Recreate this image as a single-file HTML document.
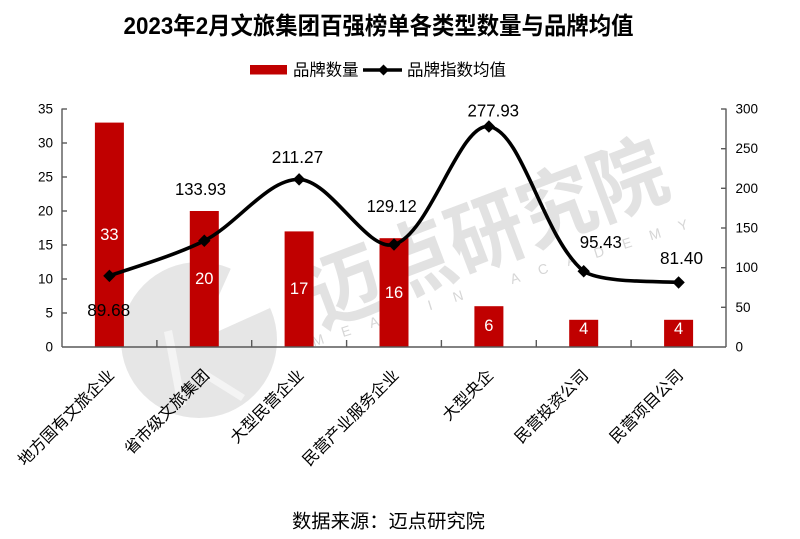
<!DOCTYPE html>
<html>
<head>
<meta charset="utf-8">
<style>
  html,body{margin:0;padding:0;background:#fff;}
  svg{display:block;}
  .cjk{font-family:"Liberation Sans","Noto Sans CJK SC","WenQuanYi Zen Hei",sans-serif;}
  .num{font-family:"Liberation Sans","Noto Sans CJK SC",sans-serif;}
</style>
</head>
<body>
<svg width="800" height="539" viewBox="0 0 800 539" xmlns="http://www.w3.org/2000/svg">
  <rect x="0" y="0" width="800" height="539" fill="#ffffff"/>

  <!-- watermark -->
  <g>
    <circle cx="199" cy="340" r="78" fill="#e6e6e6"/>
    <path d="M199,340 L232,266 A78,78 0 0 1 270,308 Z" fill="#ffffff"/>
    <path d="M172,330 L186,405 L178,407 L164,332 Z" fill="#f4f4f4"/>
    <path d="M205,370 L245,395 L241,401 L201,376 Z" fill="#f4f4f4"/>
    <text class="cjk" x="487" y="235" font-size="82" font-weight="bold" fill="#e2e2e2" text-anchor="middle" dominant-baseline="central" textLength="378" lengthAdjust="spacingAndGlyphs" transform="rotate(-20.8 487 235)">迈点研究院</text>
    <g class="num" font-size="14" fill="#d6d6d6" text-anchor="middle" dominant-baseline="central">
      <text x="318" y="340" transform="rotate(-17.5 318 340)">M</text>
      <text x="346" y="331" transform="rotate(-17.5 346 331)">E</text>
      <text x="374" y="322" transform="rotate(-17.5 374 322)">A</text>
      <text x="402" y="313" transform="rotate(-17.5 402 313)">D</text>
      <text x="430" y="305" transform="rotate(-17.5 430 305)">I</text>
      <text x="458" y="296" transform="rotate(-17.5 458 296)">N</text>
      <text x="515" y="278" transform="rotate(-17.5 515 278)">A</text>
      <text x="543" y="269" transform="rotate(-17.5 543 269)">C</text>
      <text x="571" y="260" transform="rotate(-17.5 571 260)">A</text>
      <text x="599" y="252" transform="rotate(-17.5 599 252)">D</text>
      <text x="627" y="243" transform="rotate(-17.5 627 243)">E</text>
      <text x="655" y="234" transform="rotate(-17.5 655 234)">M</text>
      <text x="683" y="225" transform="rotate(-17.5 683 225)">Y</text>
    </g>
  </g>

  <!-- title -->
  <text class="cjk" x="123.5" y="26.5" font-size="24" font-weight="bold" fill="#000" dominant-baseline="central" textLength="510" lengthAdjust="spacingAndGlyphs">2023年2月文旅集团百强榜单各类型数量与品牌均值</text>

  <!-- legend -->
  <rect x="250" y="65" width="37" height="9.5" fill="#c00000"/>
  <text class="cjk" x="293" y="70.5" font-size="16.5" fill="#000" dominant-baseline="central" textLength="65.5" lengthAdjust="spacingAndGlyphs">品牌数量</text>
  <line x1="363" y1="70" x2="402" y2="70" stroke="#000" stroke-width="3.5"/>
  <path d="M383.5,64.5 L389,70 L383.5,75.5 L378,70 Z" fill="#000"/>
  <text class="cjk" x="407" y="70.5" font-size="16.5" fill="#000" dominant-baseline="central" textLength="99" lengthAdjust="spacingAndGlyphs">品牌指数均值</text>

  <!-- bars -->
  <g fill="#c00000">
    <rect x="94.9" y="122.6" width="29" height="224.4"/>
    <rect x="189.8" y="211" width="29" height="136"/>
    <rect x="284.6" y="231.4" width="29" height="115.6"/>
    <rect x="379.5" y="238.2" width="29" height="108.8"/>
    <rect x="474.4" y="306.2" width="29" height="40.8"/>
    <rect x="569.2" y="319.8" width="29" height="27.2"/>
    <rect x="664.1" y="319.8" width="29" height="27.2"/>
  </g>

  <!-- bar value labels -->
  <g class="num" font-size="16.5" fill="#ffffff" text-anchor="middle" dominant-baseline="central">
    <text x="109.4" y="235">33</text>
    <text x="204.3" y="279">20</text>
    <text x="299.1" y="289">17</text>
    <text x="394" y="293">16</text>
    <text x="488.9" y="326">6</text>
    <text x="583.7" y="329">4</text>
    <text x="678.6" y="329">4</text>
  </g>

  <!-- axes -->
  <g stroke="#595959" stroke-width="1.4" fill="none">
    <line x1="62" y1="108.5" x2="62" y2="347"/>
    <line x1="726" y1="108.5" x2="726" y2="347"/>
    <line x1="62" y1="347" x2="726" y2="347"/>
    <line x1="62" y1="109" x2="67" y2="109"/>
    <line x1="62" y1="143" x2="67" y2="143"/>
    <line x1="62" y1="177" x2="67" y2="177"/>
    <line x1="62" y1="211" x2="67" y2="211"/>
    <line x1="62" y1="245" x2="67" y2="245"/>
    <line x1="62" y1="279" x2="67" y2="279"/>
    <line x1="62" y1="313" x2="67" y2="313"/>
    <line x1="721" y1="109" x2="726" y2="109"/>
    <line x1="721" y1="148.7" x2="726" y2="148.7"/>
    <line x1="721" y1="188.3" x2="726" y2="188.3"/>
    <line x1="721" y1="228" x2="726" y2="228"/>
    <line x1="721" y1="267.7" x2="726" y2="267.7"/>
    <line x1="721" y1="307.3" x2="726" y2="307.3"/>
    <line x1="156.9" y1="340" x2="156.9" y2="347"/>
    <line x1="251.7" y1="340" x2="251.7" y2="347"/>
    <line x1="346.6" y1="340" x2="346.6" y2="347"/>
    <line x1="441.4" y1="340" x2="441.4" y2="347"/>
    <line x1="536.3" y1="340" x2="536.3" y2="347"/>
    <line x1="631.1" y1="340" x2="631.1" y2="347"/>
  </g>

  <!-- left axis labels -->
  <g class="num" font-size="13.5" fill="#000" text-anchor="end" dominant-baseline="central">
    <text x="53" y="109">35</text>
    <text x="53" y="143">30</text>
    <text x="53" y="177">25</text>
    <text x="53" y="211">20</text>
    <text x="53" y="245">15</text>
    <text x="53" y="279">10</text>
    <text x="53" y="313">5</text>
    <text x="53" y="347">0</text>
  </g>
  <!-- right axis labels -->
  <g class="num" font-size="13.5" fill="#000" text-anchor="start" dominant-baseline="central">
    <text x="735.5" y="109">300</text>
    <text x="735.5" y="148.7">250</text>
    <text x="735.5" y="188.3">200</text>
    <text x="735.5" y="228">150</text>
    <text x="735.5" y="267.7">100</text>
    <text x="735.5" y="307.3">50</text>
    <text x="735.5" y="347">0</text>
  </g>

  <!-- line series -->
  <path d="M109.4,275.85 C125.2,270.0 174.4,255.95 204.3,240.75 C237.65,223.79 267.8,178.76 299.1,179.39 C331.0,180.03 366.7,252.17 394,244.56 C429.95,234.54 459.4,122.35 488.9,126.51 C522.6,131.26 542.95,237.8 583.7,271.29 C602,283 655,281 678.6,282.42" fill="none" stroke="#000" stroke-width="3.6" stroke-linejoin="round" stroke-linecap="round"/>
  <g fill="#000">
    <path d="M109.4,269.6 L115.6,275.85 L109.4,282.1 L103.2,275.85 Z"/>
    <path d="M204.3,234.5 L210.5,240.75 L204.3,247 L198.1,240.75 Z"/>
    <path d="M299.1,173.1 L305.3,179.4 L299.1,185.6 L292.9,179.4 Z"/>
    <path d="M394,238.3 L400.2,244.56 L394,250.8 L387.8,244.56 Z"/>
    <path d="M488.9,120.3 L495.1,126.5 L488.9,132.8 L482.7,126.5 Z"/>
    <path d="M583.7,265 L589.9,271.3 L583.7,277.5 L577.5,271.3 Z"/>
    <path d="M678.6,276.2 L684.8,282.4 L678.6,288.7 L672.4,282.4 Z"/>
  </g>

  <!-- line data labels -->
  <g class="num" font-size="17.5" fill="#000" text-anchor="middle" dominant-baseline="central">
    <text x="108.7" y="310" textLength="43" lengthAdjust="spacingAndGlyphs">89.68</text>
    <text x="200.5" y="189" textLength="51" lengthAdjust="spacingAndGlyphs">133.93</text>
    <text x="297.5" y="157" textLength="51.5" lengthAdjust="spacingAndGlyphs">211.27</text>
    <text x="391.7" y="206" textLength="50" lengthAdjust="spacingAndGlyphs">129.12</text>
    <text x="493.3" y="110.5" textLength="51.5" lengthAdjust="spacingAndGlyphs">277.93</text>
    <text x="600.8" y="242" textLength="42" lengthAdjust="spacingAndGlyphs">95.43</text>
    <text x="681.5" y="258" textLength="43" lengthAdjust="spacingAndGlyphs">81.40</text>
  </g>

  <!-- category labels -->
  <g class="cjk" font-size="16" fill="#000" text-anchor="end" dominant-baseline="central">
    <text x="112" y="373" transform="rotate(-45 112 373)">地方国有文旅企业</text>
    <text x="207" y="373" transform="rotate(-45 207 373)">省市级文旅集团</text>
    <text x="301.5" y="373" transform="rotate(-45 301.5 373)">大型民营企业</text>
    <text x="396.5" y="373" transform="rotate(-45 396.5 373)">民营产业服务企业</text>
    <text x="491" y="373" transform="rotate(-45 491 373)">大型央企</text>
    <text x="586" y="373" transform="rotate(-45 586 373)">民营投资公司</text>
    <text x="681" y="373" transform="rotate(-45 681 373)">民营项目公司</text>
  </g>

  <!-- footer -->
  <text class="cjk" x="292" y="522" font-size="19" fill="#000" dominant-baseline="central" textLength="193" lengthAdjust="spacingAndGlyphs">数据来源：迈点研究院</text>
</svg>
</body>
</html>
